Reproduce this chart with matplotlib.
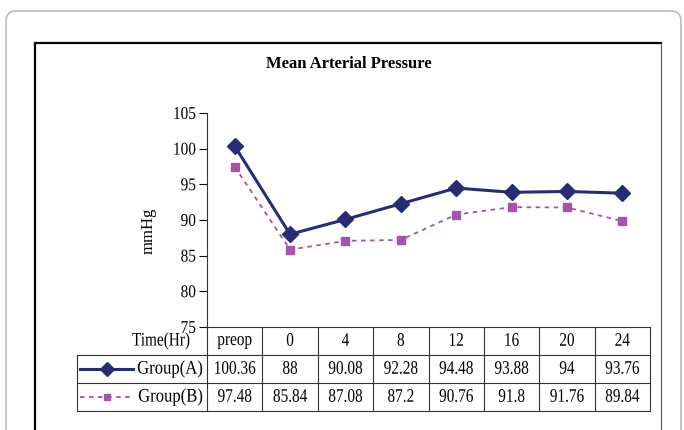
import matplotlib.pyplot as plt
from matplotlib.lines import Line2D
from matplotlib.patches import FancyBboxPatch
from matplotlib.patheffects import AbstractPathEffect
from matplotlib.transforms import IdentityTransform, Affine2D

times = ['preop', '0', '4', '8', '12', '16', '20', '24']
group_a = [100.36, 88, 90.08, 92.28, 94.48, 93.88, 94, 93.76]
group_b = [97.48, 85.84, 87.08, 87.2, 90.76, 91.8, 91.76, 89.84]
series_names = ['Group(A)', 'Group(B)']

color_a = '#262D75'
color_b = '#A653A9'
line_col = '#333333'

plt.rcParams['font.family'] = ['Liberation Serif', 'DejaVu Serif']


class Tall(AbstractPathEffect):
    """stretch a text path vertically about its middle (the source font is narrow and tall)"""
    def __init__(self, sy):
        super().__init__()
        self.sy = sy

    def draw_path(self, renderer, gc, tpath, affine, rgbFace=None):
        ext = tpath.get_extents(affine)
        cy = (ext.y0 + ext.y1) / 2
        aff = affine + Affine2D().translate(0, -cy).scale(1, self.sy).translate(0, cy)
        renderer.draw_path(gc, tpath, aff, rgbFace)


W, H = 684, 430
fig = plt.figure(figsize=(W / 100, H / 100), dpi=100)

# frames round the chart (pixel coords)
px = IdentityTransform()
fig.add_artist(FancyBboxPatch((6, -30), 675, 449, boxstyle='round,pad=0,rounding_size=10',
                              transform=px, facecolor='none', edgecolor='#BBBBBB', lw=1.2,
                              zorder=-10))
fig.add_artist(Line2D([35, 661], [H - 42.5, H - 42.5], transform=px, color='black', lw=1.6))
fig.add_artist(Line2D([35, 35], [H - 42.5, 0], transform=px, color='black', lw=1.6))
fig.add_artist(Line2D([661, 661], [H - 42.5, 0], transform=px, color='#555555', lw=0.8))

# plot area
left, right, top, bottom = 207, 650, 113, 327
ax = fig.add_axes([left / W, 1 - bottom / H, (right - left) / W, (bottom - top) / H])
ax.set_facecolor('none')
x = list(range(len(times)))
ax.plot(x, group_a, color=color_a, lw=2.2, marker='D', ms=8.5, zorder=3)
ax.plot(x, group_b, color=color_b, lw=1.3, ls=(0, (2.5, 2.5)), marker='s', ms=6, zorder=3)
ax.set_xlim(-0.5, len(times) - 0.5)
ax.set_ylim(75, 105)
ax.set_yticks(range(75, 106, 5))
ax.tick_params(axis='y', direction='out', length=6, width=0.8, labelsize=11, pad=2)
ax.tick_params(axis='x', length=0, labelbottom=False)
for lab in ax.get_yticklabels():
    lab.set_path_effects([Tall(1.18)])
for s in ['top', 'right']:
    ax.spines[s].set_visible(False)
ax.spines['left'].set_color(line_col)
ax.spines['bottom'].set_color(line_col)
ax.spines['left'].set_linewidth(0.8)
ax.spines['bottom'].set_linewidth(0.8)

fig.text(349 / W, 1 - 64 / H, 'Mean Arterial Pressure', ha='center', va='center',
         fontsize=12, fontweight='bold')
fig.text(149 / W, 1 - 231 / H, 'mmHg', rotation=90, ha='center', va='center', fontsize=12)

# data table under the axis
tr = ax.get_xaxis_transform()
col_w = (right - left) / len(times)
row_h = 28 / (bottom - top)
label_x = -0.5 - 130 / col_w
rows_y = [0, -row_h, -2 * row_h, -3 * row_h]
tall = [Tall(1.25)]

def tline(xs, ys):
    ax.add_line(Line2D(xs, ys, transform=tr, color=line_col, lw=0.8, clip_on=False))

for i in range(len(times) + 1):
    tline([i - 0.5, i - 0.5], [rows_y[0], rows_y[3]])
tline([label_x, label_x], [rows_y[1], rows_y[3]])
for yy in rows_y[1:]:
    tline([label_x, len(times) - 0.5], [yy, yy])

ax.text(-0.5 - 17 / col_w, -row_h / 2, 'Time(Hr)', transform=tr, ha='right', va='center',
        fontsize=11, path_effects=tall)
for i, t in enumerate(times):
    ax.text(i, -row_h / 2, t, transform=tr, ha='center', va='center', fontsize=11,
            path_effects=tall)

styles = [dict(color=color_a, lw=2.2, marker='D', ms=8.5),
          dict(color=color_b, lw=1.3, ls=(0, (2.5, 2.5)), marker='s', ms=6)]
for r, (name, vals, st) in enumerate(zip(series_names, [group_a, group_b], styles)):
    yc = -row_h * (r + 1.5)
    x0 = label_x + 3 / col_w
    x1 = label_x + 56 / col_w
    ax.add_line(Line2D([x0, x1], [yc, yc], transform=tr, clip_on=False,
                       color=st['color'], lw=st['lw'], ls=st.get('ls', '-')))
    ax.add_line(Line2D([(x0 + x1) / 2], [yc], transform=tr, clip_on=False, ls='none',
                       marker=st['marker'], ms=st['ms'] * 0.8, color=st['color']))
    ax.text(-0.5 - 4 / col_w, yc, name, transform=tr, ha='right', va='center', fontsize=12,
            path_effects=[Tall(1.15)])
    for i, v in enumerate(vals):
        ax.text(i, yc, f'{v:g}', transform=tr, ha='center', va='center', fontsize=11,
                path_effects=tall)

fig.savefig('out.png', dpi=100)
